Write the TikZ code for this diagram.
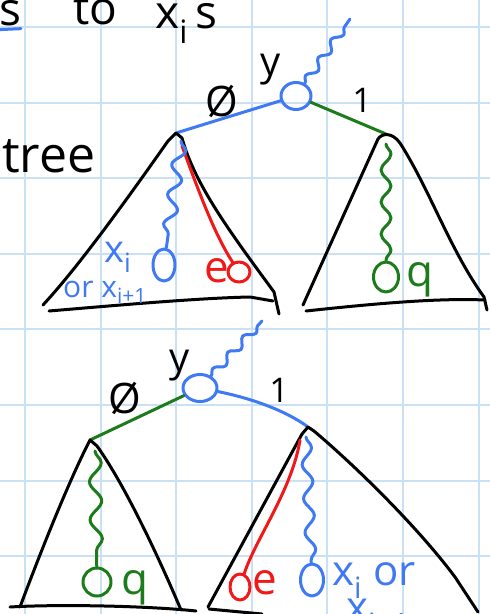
\documentclass[tikz,border=0pt]{standalone}
\usepackage{fontspec}
\setmainfont{Open Sans}
\usetikzlibrary{shapes.geometric, decorations.pathmorphing}
\definecolor{Pen}{HTML}{4079F4}
\definecolor{Red}{HTML}{F01818}
\definecolor{DGreen}{HTML}{1C7C1C}
\definecolor{Grid}{HTML}{C9E1F3}
\newcommand{\xsub}[1]{x\textsubscript{#1}}

\begin{document}
\begin{tikzpicture}[x=1pt, y=-1pt,
    ink/.style={line width=3pt, line cap=round, line join=round},
    wavy/.style={ink, decorate, decoration={snake, amplitude=5pt, segment length=32pt}},
    loop/.style={ink, draw, ellipse, inner sep=0pt},
    lbl/.style={inner sep=0pt, font=\fontsize{#1}{#1}\selectfont},
]

    \useasboundingbox (0,0) rectangle (490,614);
    \fill[white] (0,0) rectangle (490,614);

    % Grid
    \foreach \i in {0,...,6} {
        \draw[Grid, line width=2pt] ({25+75.6*\i},0) -- ({25+75.6*\i},614);
    }
    \foreach \j in {0,...,7} {
        \draw[Grid, line width=2pt] (0,{27+75.6*\j}) -- (490,{27+75.6*\j});
    }

    % Heading
    \node[lbl=46, anchor=base west] (head-s) at (-1,25) {s};
    \node[lbl=46, anchor=base west] (head-to) at (73,24) {to};
    \node[lbl=46, anchor=base west] (head-x) at (155,28) {\xsub{i}\,s};
    \draw[Pen, ink] (head-s.south west) ++(0,4) -- ++(22,-1);
    \node[lbl=50, anchor=base west] (tree) at (2,172) {tree};

    % Upper tree
    \node[loop, Pen, minimum width=30, minimum height=27] (up-root) at (296,96) {};
    \coordinate (up-tip) at (350,19);
    \coordinate (up-l) at (176,133);
    \coordinate (up-r) at (386,134);
    \node[loop, Pen, minimum width=22, minimum height=32] (up-x) at (164,265) {};
    \node[loop, Red, minimum width=22, minimum height=20] (up-e) at (239,272) {};
    \node[loop, DGreen, minimum width=25, minimum height=30] (up-q) at (386,277) {};

    \draw[Pen, wavy, decoration={amplitude=4pt, segment length=22pt}] (up-root) -- (up-tip);
    \draw[Pen, ink] (up-root) -- (up-l);
    \draw[DGreen, ink] (up-root) -- (up-r);

    % left subtree
    \draw[ink] (43,305) .. controls (80,265) and (130,195) .. (168,141) -- (up-l) -- (182,138)
        .. controls (195,185) and (230,232) .. (274,292) -- (279,314);
    \draw[ink] (49,311) .. controls (120,305) and (200,298) .. (250,297) -- (273,301);
    \draw[Red, ink] (182,146) .. controls (200,195) and (215,235) .. (up-e);
    \draw[Pen, wavy, decoration={amplitude=6pt, segment length=30pt}] (181,141) -- (up-x);

    % right subtree
    \draw[ink] (303,305) -- (378,139) .. controls (382,133) and (392,132) .. (400,143)
        .. controls (430,190) and (450,250) .. (484,297) -- (487,310);
    \draw[ink] (306,311) .. controls (380,303) and (440,298) .. (485,300);
    \draw[DGreen, wavy] (386,144) -- (up-q);

    % Lower tree
    \node[loop, Pen, minimum width=34, minimum height=27] (lo-root) at (200,388) {};
    \coordinate (lo-tip) at (262,321);
    \coordinate (lo-l) at (90,440);
    \coordinate (lo-r) at (308,427);
    \node[loop, DGreen, minimum width=28, minimum height=28] (lo-q) at (97,582) {};
    \node[loop, Red, minimum width=20, minimum height=26] (lo-e) at (240,587) {};
    \node[loop, Pen, minimum width=23, minimum height=32] (lo-x) at (312,580) {};

    \draw[Pen, wavy, decoration={amplitude=4pt, segment length=22pt}] (lo-root) -- (lo-tip);
    \draw[DGreen, ink] (lo-root) -- (lo-l);
    \draw[Pen, ink] (lo-root) .. controls (250,398) and (285,410) .. (lo-r);

    % left subtree
    \draw[ink] (20,607) .. controls (45,540) and (70,480) .. (86,448) -- (lo-l) -- (97,446)
        .. controls (125,485) and (160,560) .. (181,610);
    \draw[ink] (10,607) .. controls (60,604) and (150,606) .. (196,611);
    \draw[DGreen, wavy, decoration={amplitude=6pt, segment length=38pt}] (95,451) -- (lo-q);

    % right subtree
    \draw[ink] (208,607) -- (302,434) -- (lo-r) -- (314,431)
        .. controls (360,470) and (420,530) .. (455,577) -- (478,612);
    \draw[ink] (209,609) -- (262,614);
    \draw[Red, ink] (300,440) .. controls (292,490) and (255,540) .. (lo-e);
    \draw[Pen, wavy, decoration={amplitude=5pt, segment length=34pt}] (306,437) -- (lo-x);

    % Labels
    \node[lbl=40] (up-y) at (271,70) {y};
    \node[lbl=42] (up-zero) at (222,101) {Ø};
    \node[lbl=34] (up-one) at (362,100) {1};
    \node[lbl=44, Red] (up-e-lbl) at (217,271) {e};
    \node[lbl=44, DGreen] (up-q-lbl) at (420,280) {q};
    \node[lbl=38, Pen, anchor=base west] (up-x-lbl) at (104,262) {\xsub{i}};
    \node[lbl=30, Pen, anchor=base west] (up-or-lbl) at (63,297) {or \xsub{i+1}};

    \node[lbl=40] (lo-y) at (180,366) {y};
    \node[lbl=42] (lo-zero) at (125,398) {Ø};
    \node[lbl=34] (lo-one) at (279,390) {1};
    \node[lbl=44, DGreen] (lo-q-lbl) at (135,588) {q};
    \node[lbl=44, Red] (lo-e-lbl) at (265,583) {e};
    \node[lbl=42, Pen, anchor=base west] (lo-x-lbl) at (332,585) {\xsub{i} or};
    \node[lbl=42, Pen, anchor=base west] (lo-x2-lbl) at (346,621) {\xsub{i+1}};

\end{tikzpicture}
\end{document}
